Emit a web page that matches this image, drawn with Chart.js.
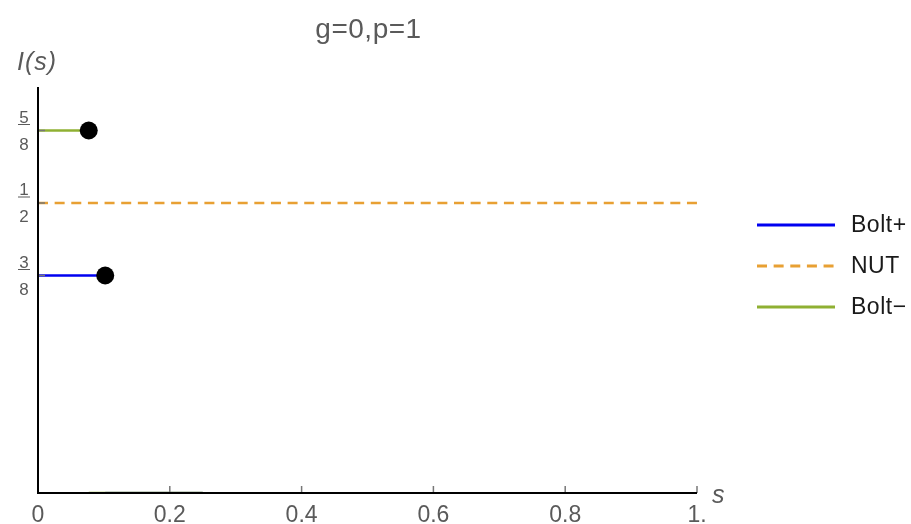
<!DOCTYPE html>
<html>
<head>
<meta charset="utf-8">
<script src="https://cdn.jsdelivr.net/npm/chart.js@4"></script>
<style>
html,body{margin:0;padding:0;background:#fff;}
#wrap{width:911px;height:524px;}
</style>
</head>
<body>
<div id="wrap"><canvas id="c" width="911" height="524"></canvas></div>
<script>
// ---- data ----
const titleText = "g=0,p=1";
const xTicks = [0, 0.2, 0.4, 0.6, 0.8, 1];
const xTickLabels = ["0", "0.2", "0.4", "0.6", "0.8", "1."];
const yTicks = [3/8, 1/2, 5/8];
const yTickNum = ["3", "1", "5"];
const yTickDen = ["8", "2", "8"];
const seriesNames = ["Bolt+", "NUT", "Bolt\u2212"];
const boltPlusX = [0, 0.102];
const boltPlusY = [0.375, 0.375];
const boltPlusLowX = [0.102, 0.25];
const boltPlusLowY = [0, 0];
const nutX = [0, 1];
const nutY = [0.5, 0.5];
const boltMinusX = [0, 0.077];
const boltMinusY = [0.625, 0.625];
const boltMinusLowX = [0.077, 0.25];
const boltMinusLowY = [0, 0];

const BLUE = "#0000f0", ORANGE = "#e8a033", GREEN = "#8fb032";
const pts = (xs, ys) => xs.map((x, i) => ({x, y: ys[i]}));
const FONT = "'Liberation Sans', Arial, sans-serif";

const overlay = {
  id: "overlay",
  afterDraw(chart) {
    const ctx = chart.ctx, xs = chart.scales.x, ys = chart.scales.y, a = chart.chartArea;
    ctx.save();
    // tick marks
    ctx.strokeStyle = "#777"; ctx.lineWidth = 1.5;
    xTicks.forEach(v => { if (v === 0) return; const px = xs.getPixelForValue(v);
      ctx.beginPath(); ctx.moveTo(px, a.bottom); ctx.lineTo(px, a.bottom - 7); ctx.stroke(); });
    yTicks.forEach(v => { const py = ys.getPixelForValue(v);
      ctx.beginPath(); ctx.moveTo(a.left, py); ctx.lineTo(a.left + 7, py); ctx.stroke(); });
    // axes
    ctx.strokeStyle = "#000"; ctx.lineWidth = 2;
    ctx.beginPath(); ctx.moveTo(a.left, a.top); ctx.lineTo(a.left, a.bottom); ctx.lineTo(a.right, a.bottom); ctx.stroke();
    // x tick labels
    ctx.fillStyle = "#5a5a5a"; ctx.font = "23px " + FONT;
    ctx.textAlign = "center"; ctx.textBaseline = "alphabetic";
    xTicks.forEach((v, i) => ctx.fillText(xTickLabels[i], xs.getPixelForValue(v), 522));
    // y fraction labels
    ctx.font = "17px " + FONT;
    yTicks.forEach((v, i) => { const py = ys.getPixelForValue(v);
      ctx.fillText(yTickNum[i], 24, py - 8);
      ctx.fillText(yTickDen[i], 24, py + 19);
      ctx.strokeStyle = "#5a5a5a"; ctx.lineWidth = 1;
      ctx.beginPath(); ctx.moveTo(18, py - 6); ctx.lineTo(30, py - 6); ctx.stroke(); });
    // axis labels
    ctx.font = "italic 25px " + FONT;
    ctx.textAlign = "left";
    ctx.letterSpacing = "1px";
    ctx.fillText("I(s)", 17, 70);
    ctx.letterSpacing = "0px";
    ctx.fillText("s", 712, 503);
    // title
    ctx.font = "28px " + FONT;
    ctx.textAlign = "center";
    ctx.letterSpacing = "0.5px";
    ctx.fillText(titleText, (a.left + a.right) / 2 + 1, 38);
    ctx.letterSpacing = "0px";
    // legend
    const rows = [225, 266, 307];
    [0, 1, 2].forEach(i => { const ds = chart.data.datasets[i];
      ctx.strokeStyle = ds.borderColor; ctx.lineWidth = 3;
      ctx.setLineDash(ds.borderDash || []);
      ctx.beginPath(); ctx.moveTo(757, rows[i]); ctx.lineTo(835, rows[i]); ctx.stroke();
      ctx.setLineDash([]);
      ctx.fillStyle = "#1a1a1a"; ctx.font = "23px " + FONT;
      ctx.textAlign = "left"; ctx.textBaseline = "alphabetic";
      ctx.letterSpacing = "0.5px";
      ctx.fillText(seriesNames[i], 851, rows[i] + 7); });
    ctx.restore();
  }
};

new Chart(document.getElementById("c"), {
  type: "line",
  data: {
    datasets: [
      {label: seriesNames[0], data: pts(boltPlusX, boltPlusY), borderColor: BLUE, borderWidth: 2.5,
       pointRadius: [0, 9], pointBackgroundColor: "#000", pointBorderWidth: 0, order: 1},
      {label: seriesNames[1], data: pts(nutX, nutY), borderColor: ORANGE, borderWidth: 2.5,
       borderDash: [10, 6.64], pointRadius: 0, order: 2},
      {label: seriesNames[2], data: pts(boltMinusX, boltMinusY), borderColor: GREEN, borderWidth: 2.5,
       pointRadius: [0, 9], pointBackgroundColor: "#000", pointBorderWidth: 0, order: 0},
      {label: "low+", data: pts(boltPlusLowX, boltPlusLowY), borderColor: "rgba(40,60,160,0.55)", borderWidth: 2.5,
       pointRadius: 0, order: 3},
      {label: "low-", data: pts(boltMinusLowX, boltMinusLowY), borderColor: GREEN, borderWidth: 2.5,
       pointRadius: 0, order: 4}
    ]
  },
  options: {
    responsive: false, animation: false, devicePixelRatio: 1,
    layout: {padding: {left: 38, right: 214, top: 87, bottom: 31}},
    plugins: {legend: {display: false}, title: {display: false}, tooltip: {enabled: false}},
    scales: {
      x: {type: "linear", min: 0, max: 1, display: false},
      y: {type: "linear", min: 0, max: 0.7, display: false}
    }
  },
  plugins: [overlay]
});
</script>
</body>
</html>
